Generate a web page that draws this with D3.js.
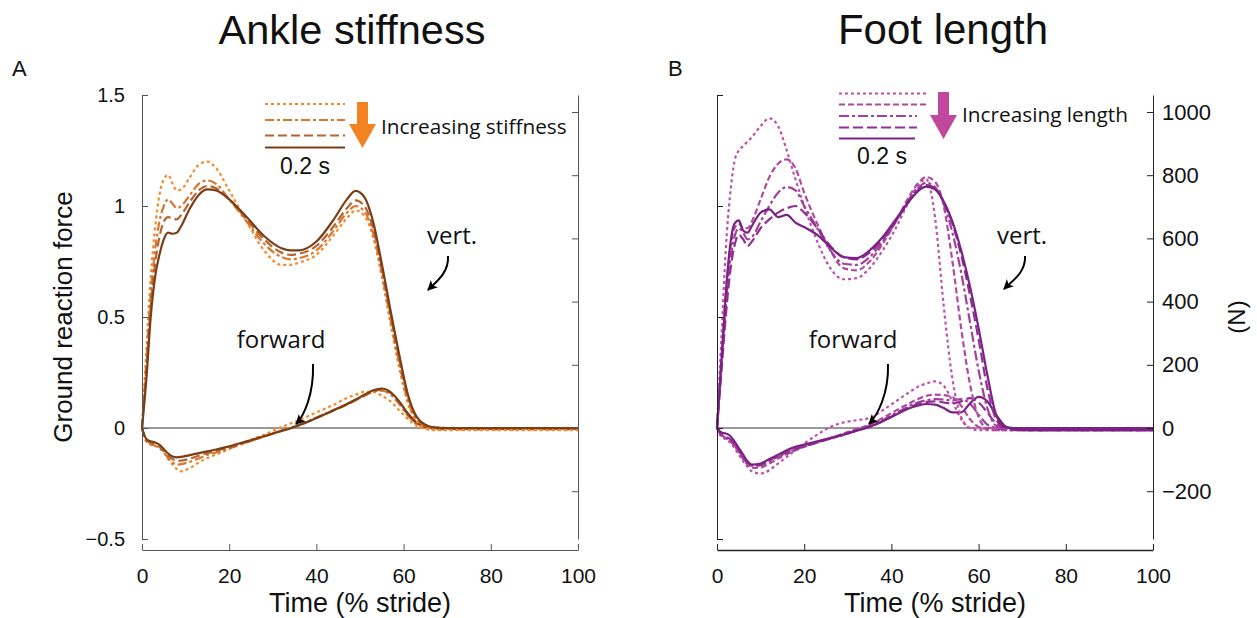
<!DOCTYPE html>
<html>
<head>
<meta charset="utf-8">
<script src="https://cdn.jsdelivr.net/npm/d3@7"></script>
<style>
  body { margin: 0; background: #fff; }
  text { fill: #111; }
  .tick text { font-family: "Liberation Sans", Arial, sans-serif; }
  .ann { font-family: "Open Sans", sans-serif; }
</style>
</head>
<body>
<script>
// time grid (% stride) for each panel
var tA = [0,1,2,3,4,5,6,7,8,9,11,13,15,17,20,24,28,32,34,36,40,44,47,49,51,53,55,57,59,61,63,65,67,70,80,90,100];
var tB = [0,1,2,3,4,5,6,7,8,10,12,14,16,18,20,23,26,29,32,35,38,41,44,46,48,50,52,54,56,58,60,62,64,66,68,72,80,90,100];

// Panel A, vertical force (body weights), least stiff -> most stiff
var aVertDotted  = [0,.35,.68,.9,1.05,1.12,1.14,1.10,1.07,1.075,1.13,1.185,1.20,1.17,1.07,.93,.80,.735,.735,.745,.78,.87,.945,.98,.955,.86,.68,.47,.27,.11,.03,0,-.005,-.008,-.008,-.008,-.008];
var aVertDashDot = [0,.3,.6,.8,.93,1.0,1.03,1.01,.99,1.0,1.05,1.1,1.115,1.1,1.03,.93,.83,.77,.76,.765,.80,.89,.97,1.0,.975,.88,.70,.49,.29,.12,.04,.01,0,0,0,0,0];
var aVertDashed  = [0,.26,.55,.74,.86,.93,.95,.945,.94,.96,1.02,1.07,1.09,1.08,1.03,.94,.85,.79,.78,.785,.82,.91,.99,1.025,1.0,.9,.72,.51,.31,.14,.045,.012,.002,0,0,0,0];
var aVertSolid   = [0,.22,.5,.68,.78,.85,.88,.875,.88,.91,.99,1.05,1.075,1.07,1.03,.95,.865,.81,.80,.80,.84,.94,1.03,1.068,1.04,.93,.74,.53,.33,.15,.05,.015,.003,0,0,0,0];

// Panel A, forward force
var aFwdDotted  = [0,-.06,-.075,-.08,-.09,-.11,-.14,-.165,-.185,-.195,-.18,-.155,-.135,-.12,-.095,-.06,-.03,.005,.02,.035,.07,.105,.135,.15,.163,.163,.145,.12,.08,.04,.01,-.005,-.01,-.01,-.01,-.01,-.01];
var aFwdDashDot = [0,-.06,-.072,-.08,-.09,-.11,-.135,-.155,-.165,-.163,-.152,-.137,-.122,-.11,-.092,-.065,-.038,-.012,.001,.014,.047,.082,.107,.126,.146,.163,.168,.15,.108,.055,.018,.002,-.004,-.006,-.006,-.006,-.006];
var aFwdDashed  = [0,-.055,-.068,-.075,-.085,-.105,-.125,-.14,-.148,-.147,-.138,-.125,-.113,-.103,-.088,-.063,-.038,-.013,-.001,.012,.045,.08,.105,.125,.145,.165,.172,.158,.115,.06,.022,.005,-.002,-.004,-.004,-.004,-.004];
var aFwdSolid   = [0,-.05,-.06,-.065,-.075,-.095,-.115,-.128,-.132,-.13,-.122,-.113,-.105,-.097,-.083,-.06,-.037,-.013,-.002,.012,.045,.08,.108,.128,.15,.17,.178,.162,.12,.065,.025,.006,0,-.002,-.002,-.002,-.002];

// Panel B, vertical force, shortest -> longest foot
var bVertDotted    = [0,.4,.8,1.05,1.2,1.25,1.27,1.29,1.31,1.36,1.395,1.36,1.25,1.12,1.0,.84,.72,.67,.675,.72,.8,.9,1.02,1.09,1.12,.95,.55,.22,.05,0,0,0,0,0,0,0,0,0,0];
var bVertShortDash = [0,.3,.6,.8,.9,.92,.9,.9,.93,1.03,1.13,1.19,1.21,1.17,1.06,.92,.8,.72,.71,.75,.83,.93,1.04,1.1,1.13,1.11,1.0,.75,.45,.2,.05,0,0,0,0,0,0,0,0];
var bVertDashDot   = [0,.28,.55,.75,.86,.9,.88,.85,.86,.93,1.0,1.06,1.085,1.07,1.0,.9,.8,.74,.735,.77,.84,.93,1.03,1.08,1.105,1.085,1.01,.88,.70,.48,.26,.09,.01,0,0,0,0,0,0];
var bVertLongDash  = [0,.25,.5,.7,.82,.87,.85,.82,.84,.9,.94,.97,.99,1.0,.97,.9,.82,.77,.76,.79,.85,.93,1.02,1.07,1.095,1.08,1.02,.92,.78,.60,.40,.18,.04,0,0,0,0,0,0];
var bVertSolid     = [0,.3,.6,.82,.92,.935,.89,.88,.91,.97,.985,.95,.96,.925,.905,.87,.815,.77,.765,.80,.86,.94,1.02,1.065,1.087,1.075,1.02,.93,.80,.64,.45,.24,.06,.005,0,0,0,0,0];

// Panel B, forward force
var bFwdDotted    = [0,-.04,-.05,-.065,-.09,-.12,-.15,-.175,-.195,-.205,-.19,-.16,-.13,-.1,-.07,-.03,.005,.025,.035,.045,.08,.12,.16,.185,.2,.21,.19,.12,.04,0,-.01,-.01,-.01,-.01,-.01,-.01,-.01,-.01,-.01];
var bFwdShortDash = [0,-.03,-.045,-.06,-.08,-.11,-.14,-.165,-.18,-.178,-.16,-.138,-.118,-.1,-.085,-.065,-.045,-.025,-.005,.015,.045,.078,.11,.13,.145,.15,.148,.14,.1,.04,.005,-.005,-.01,-.01,-.01,-.01,-.01,-.01,-.01];
var bFwdDashDot   = [0,-.03,-.045,-.055,-.075,-.105,-.135,-.158,-.17,-.168,-.15,-.13,-.112,-.097,-.083,-.065,-.047,-.03,-.01,.01,.035,.067,.098,.115,.125,.13,.128,.125,.13,.11,.06,.015,0,-.005,-.01,-.01,-.01,-.01,-.01];
var bFwdLongDash  = [0,-.03,-.04,-.05,-.07,-.1,-.13,-.155,-.168,-.165,-.145,-.125,-.11,-.095,-.082,-.065,-.048,-.03,-.012,.005,.03,.062,.092,.108,.118,.12,.115,.11,.12,.135,.115,.07,.02,0,-.008,-.01,-.01,-.01,-.01];
var bFwdSolid     = [0,-.02,-.025,-.035,-.06,-.09,-.12,-.15,-.165,-.16,-.14,-.12,-.10,-.085,-.075,-.06,-.045,-.03,-.012,.005,.03,.06,.088,.10,.108,.105,.09,.07,.07,.11,.14,.12,.06,.01,-.005,-.01,-.01,-.01,-.01];

var xTicks = [0, 20, 40, 60, 80, 100];
var yTicks = [-0.5, 0, 0.5, 1, 1.5];
var nTicks = [-200, 0, 200, 400, 600, 800, 1000];
var bodyWeight = 702.5; // N per body weight, links the two y axes

var width = 1257, height = 618;
var svg = d3.select("body").append("svg")
  .attr("width", width)
  .attr("height", height);

var defs = svg.append("defs");
defs.append("marker")
  .attr("id", "head")
  .attr("viewBox", "0 0 10 10")
  .attr("refX", 9).attr("refY", 5)
  .attr("markerWidth", 5).attr("markerHeight", 5)
  .attr("markerUnits", "strokeWidth")
  .attr("orient", "auto")
  .append("path").attr("d", "M0,0 L10,5 L0,10 L2.5,5 Z").attr("fill", "#000");

var y = d3.scaleLinear().domain([-0.5, 1.5]).range([539, 95]);
var yN = d3.scaleLinear().domain([-0.5 * bodyWeight, 1.5 * bodyWeight]).range([539, 95]);

var panels = [
  {
    left: 142, right: 578, title: "Ankle stiffness", titleX: 352, titleSize: 41.5, letter: "A", letterX: 12,
    t: tA,
    styles: [
      {color: "#f58a2b", dash: "3,3"},
      {color: "#d9772f", dash: "9,3,3,3"},
      {color: "#b5652e", dash: "9,4"},
      {color: "#7a3e16", dash: null}
    ],
    vert: [aVertDotted, aVertDashDot, aVertDashed, aVertSolid],
    fwd: [aFwdDotted, aFwdDashDot, aFwdDashed, aFwdSolid],
    legendY: [104, 120, 135.5, 147.5], legendEnd: [345, 345, 345, 345], legendStart: 265,
    arrowColor: "#f58220", arrowX: 362.5, arrowTop: 102, arrowBottom: 148,
    legendText: "Increasing stiffness", legendTextX: 381, legendTextY: 134,
    scaleBar: [305, 174],
    vertText: [452, 244], vertArrow: [448, 256, 428, 290],
    fwdText: [281, 348], fwdArrow: [313, 364, 296, 424],
    axisColor: "#555", axisWidth: 1, showN: false, showY: true
  },
  {
    left: 717, right: 1153, title: "Foot length", titleX: 943, titleSize: 42, letter: "B", letterX: 668,
    t: tB,
    styles: [
      {color: "#bd52a9", dash: "3,3"},
      {color: "#b04aa1", dash: "6,3"},
      {color: "#a0429c", dash: "10,3,3,3"},
      {color: "#922f95", dash: "10,4"},
      {color: "#7a2283", dash: null}
    ],
    vert: [bVertDotted, bVertShortDash, bVertDashDot, bVertLongDash, bVertSolid],
    fwd: [bFwdDotted, bFwdShortDash, bFwdDashDot, bFwdLongDash, bFwdSolid],
    legendY: [93.5, 104.5, 116, 127.5, 138.5], legendEnd: [928, 928, 917, 917, 915], legendStart: 839,
    arrowColor: "#c0479b", arrowX: 943.5, arrowTop: 92, arrowBottom: 139,
    legendText: "Increasing length", legendTextX: 962, legendTextY: 122,
    scaleBar: [882, 164],
    vertText: [1022, 244], vertArrow: [1025, 256, 1004, 289],
    fwdText: [853, 348], fwdArrow: [888, 364, 869, 424],
    axisColor: "#222", axisWidth: 1.6, showN: true, showY: false
  }
];

panels.forEach(function(p) {
  var g = svg.append("g");
  var x = d3.scaleLinear().domain([0, 100]).range([p.left, p.right]);

  // title and panel letter
  g.append("text")
    .attr("x", p.titleX).attr("y", 44)
    .attr("text-anchor", "middle")
    .style("font-family", "Liberation Sans, Arial, sans-serif")
    .style("font-size", p.titleSize + "px")
    .text(p.title);
  g.append("text")
    .attr("x", p.letterX).attr("y", 76)
    .style("font-family", "Liberation Sans, Arial, sans-serif")
    .style("font-size", "22px")
    .text(p.letter);

  // zero line
  g.append("line")
    .attr("x1", x(0)).attr("x2", x(100))
    .attr("y1", y(0)).attr("y2", y(0))
    .attr("stroke", "#333").attr("stroke-width", 1);

  // curves
  var line = d3.line()
    .x(function(d) { return x(d[0]); })
    .y(function(d) { return y(d[1]); })
    .curve(d3.curveMonotoneX);

  [p.fwd, p.vert].forEach(function(set) {
    set.forEach(function(vals, i) {
      var pts = p.t.map(function(t, j) { return [t, vals[j]]; });
      g.append("path")
        .attr("d", line(pts))
        .attr("fill", "none")
        .attr("stroke", p.styles[i].color)
        .attr("stroke-width", 2.2)
        .attr("stroke-dasharray", p.styles[i].dash);
    });
  });

  // left axis
  var yAxis = d3.axisLeft(y)
    .tickValues(yTicks)
    .tickSizeInner(-6).tickSizeOuter(0)
    .tickPadding(17)
    .tickFormat(p.showY ? d3.format("~g") : "");
  var ya = g.append("g").attr("transform", "translate(" + p.left + ",0)").call(yAxis);
  ya.selectAll("text").style("font-size", "20px");

  // right axis (Newtons)
  var nAxis = d3.axisRight(yN)
    .tickValues(nTicks)
    .tickSizeInner(-6).tickSizeOuter(0)
    .tickPadding(9)
    .tickFormat(p.showN ? d3.format("d") : "");
  var na = g.append("g").attr("transform", "translate(" + p.right + ",0)").call(nAxis);
  na.selectAll("text").style("font-size", "22px");

  // bottom axis
  var xAxis = d3.axisBottom(x)
    .tickValues(xTicks)
    .tickSizeInner(-6).tickSizeOuter(0)
    .tickPadding(18);
  var xa = g.append("g").attr("transform", "translate(0,550)").call(xAxis);
  xa.selectAll("text").style("font-size", "21px");

  [ya, na, xa].forEach(function(a) {
    a.select(".domain").attr("stroke", p.axisColor).attr("stroke-width", 1);
    a.selectAll(".tick line").attr("stroke", p.axisColor);
    a.selectAll(".tick text").attr("fill", "#111");
  });
  xa.select(".domain").attr("stroke-width", p.axisWidth);

  g.append("text")
    .attr("x", (p.left + p.right) / 2).attr("y", 612)
    .attr("text-anchor", "middle")
    .style("font-family", "Liberation Sans, Arial, sans-serif")
    .style("font-size", "27px")
    .text("Time (% stride)");

  // legend
  p.legendY.forEach(function(ly, i) {
    g.append("line")
      .attr("x1", p.legendStart).attr("x2", p.legendEnd[i])
      .attr("y1", ly).attr("y2", ly)
      .attr("stroke", p.styles[i].color)
      .attr("stroke-width", 2.2)
      .attr("stroke-dasharray", p.styles[i].dash);
  });
  var ax = p.arrowX, headTop = p.arrowBottom - 24;
  g.append("path")
    .attr("d", "M" + (ax - 5.5) + "," + p.arrowTop + "H" + (ax + 5.5) + "V" + headTop +
      "H" + (ax + 13.5) + "L" + ax + "," + p.arrowBottom + "L" + (ax - 13.5) + "," + headTop +
      "H" + (ax - 5.5) + "Z")
    .attr("fill", p.arrowColor);
  g.append("text").attr("class", "ann")
    .attr("x", p.legendTextX).attr("y", p.legendTextY)
    .style("font-size", "20.8px")
    .text(p.legendText);
  g.append("text")
    .attr("x", p.scaleBar[0]).attr("y", p.scaleBar[1])
    .attr("text-anchor", "middle")
    .style("font-family", "Liberation Sans, Arial, sans-serif")
    .style("font-size", "23px")
    .text("0.2 s");

  // annotations
  g.append("text").attr("class", "ann")
    .attr("x", p.vertText[0]).attr("y", p.vertText[1])
    .attr("text-anchor", "middle")
    .style("font-size", "24px")
    .text("vert.");
  g.append("text").attr("class", "ann")
    .attr("x", p.fwdText[0]).attr("y", p.fwdText[1])
    .attr("text-anchor", "middle")
    .style("font-size", "24px")
    .text("forward");
  [p.vertArrow, p.fwdArrow].forEach(function(a) {
    g.append("path")
      .attr("d", "M" + a[0] + "," + a[1] + " C" + (a[0] + 1) + "," + (a[1] + (a[3] - a[1]) * 0.5) + " " +
        (a[2] + 8) + "," + (a[3] - 8) + " " + a[2] + "," + a[3])
      .attr("fill", "none")
      .attr("stroke", "#000")
      .attr("stroke-width", 2)
      .attr("marker-end", "url(#head)");
  });
});

// y axis labels
svg.append("text")
  .attr("transform", "translate(72,317) rotate(-90)")
  .attr("text-anchor", "middle")
  .style("font-family", "Liberation Sans, Arial, sans-serif")
  .style("font-size", "26px")
  .text("Ground reaction force");
svg.append("text")
  .attr("transform", "translate(1245,317) rotate(-90)")
  .attr("text-anchor", "middle")
  .style("font-family", "Liberation Sans, Arial, sans-serif")
  .style("font-size", "24px")
  .text("(N)");
</script>
</body>
</html>
